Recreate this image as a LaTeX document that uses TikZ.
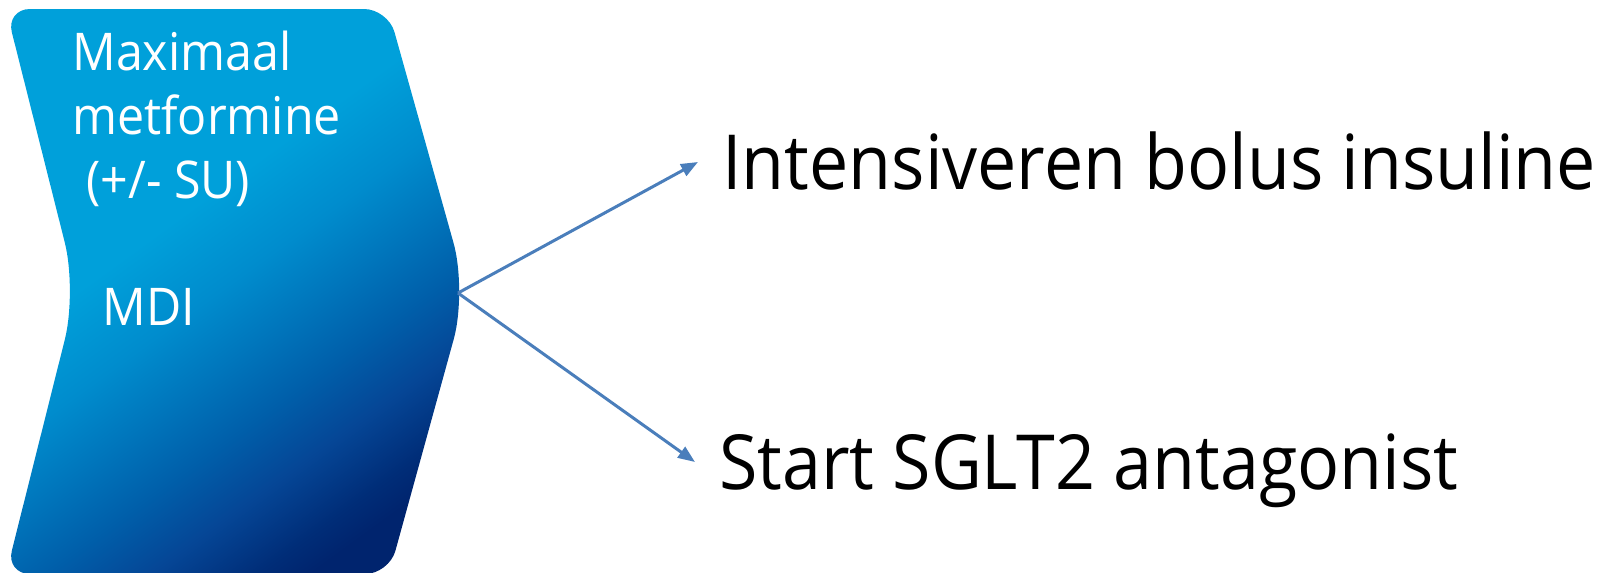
\documentclass[tikz,border=0pt]{standalone}
\usepackage{fontspec}
\setmainfont{Open Sans}
\newfontfamily\boxfont{Open Sans}[FakeStretch=0.93]
\newfontfamily\optfont{Open Sans}[FakeStretch=0.92]
\usetikzlibrary{arrows.meta}
% blue ramp of the chevron, light to dark
\definecolor{chevA}{RGB}{0,160,218}
\definecolor{chevB}{RGB}{0,140,205}
\definecolor{chevC}{RGB}{0,118,188}
\definecolor{chevD}{RGB}{0,95,170}
\definecolor{chevE}{RGB}{5,70,150}
\definecolor{chevF}{RGB}{0,45,120}
\definecolor{chevG}{RGB}{0,36,110}
\definecolor{arrowblue}{RGB}{74,126,187}
\pgfdeclareverticalshading{chevshade}{100bp}{color(0bp)=(chevG); color(24bp)=(chevG); color(27bp)=(chevF); color(33bp)=(chevE); color(39bp)=(chevD); color(45bp)=(chevC); color(51bp)=(chevB); color(59bp)=(chevA); color(100bp)=(chevA)}
\begin{document}
\begin{tikzpicture}[x=0.5pt,y=-0.5pt,
  chevron/.style={shading=chevshade, shading angle=36},
  boxtext/.style={text=white, font=\boxfont\fontsize{26}{32}\selectfont, align=left, inner sep=0pt, anchor=base west},
  option/.style={font=\optfont\fontsize{38}{46}\selectfont, text height=27pt, text depth=0pt, inner ysep=0pt, inner xsep=12pt, anchor=west},
  link/.style={draw=arrowblue, line width=1.5pt, -{Triangle[length=8.5pt,width=6.5pt]}}]
\useasboundingbox (0,0) rectangle (1612,573);
% right-pointing chevron with rounded corners
\shade[chevron, rounded corners=12pt] (200,9) -- (388,9) [rounded corners=25pt] -- (467,291) [rounded corners=12pt] -- (389,574) -- (6,574) [rounded corners=25pt] -- (77,291) [rounded corners=12pt] -- (6,9) -- cycle;
\coordinate (tip) at (458,293);
% the label's last line (MDI) sits on the given baseline
\node[boxtext] (boxlabel) at (72,325) {Maximaal\\metformine\\\hspace*{7pt}(+/- SU)\\[31.5pt]\hspace*{15pt}MDI};
% the two options
\node[option] (bolus) at (698,162) {Intensiveren bolus insuline};
\node[option] (sglt) at (695,462) {Start SGLT2 antagonist};
\draw[link] (tip) -- (bolus.west);
\draw[link] (tip) -- (sglt.west);
\end{tikzpicture}
\end{document}
